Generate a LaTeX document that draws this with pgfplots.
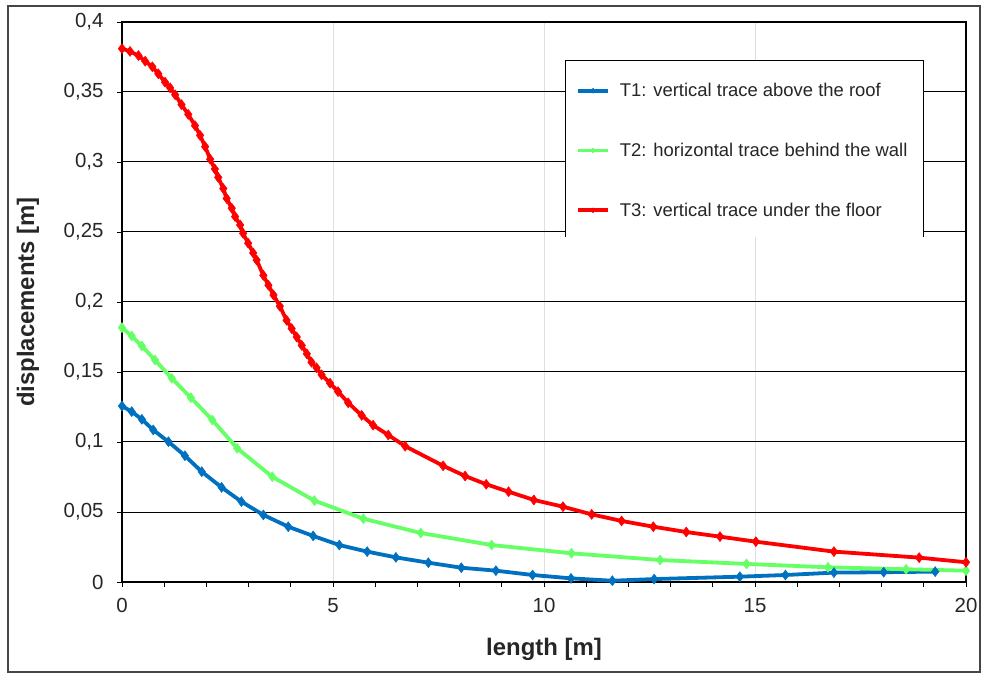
\documentclass[border=0pt]{standalone}
\usepackage{fontspec}
\setmainfont{Liberation Sans}
\usepackage{pgfplots}
\pgfplotsset{compat=1.18}
\definecolor{tblue}{RGB}{0,112,192}
\definecolor{tgreen}{RGB}{102,255,102}
\definecolor{tred}{RGB}{255,0,0}
\definecolor{frame}{RGB}{70,70,70}
\begin{document}
\begin{tikzpicture}
\path (-122bp,-93bp) rectangle (864bp,582bp);
\draw[frame, line width=2bp] (-114bp,-90bp) rectangle (858bp,576bp);
\begin{axis}[
  at={(0bp,0bp)}, anchor=origin,
  scale only axis, width=844bp, height=560bp,
  xmin=0, xmax=20, ymin=0, ymax=0.4,
  clip=false,
  xtick={0,5,10,15,20},
  minor xtick={1,2,3,4,6,7,8,9,11,12,13,14,16,17,18,19},
  ytick={0,0.05,0.1,0.15,0.2,0.25,0.3,0.35,0.4},
  xtick pos=bottom, ytick pos=left,
  tick align=outside,
  major tick length=5bp, minor tick length=5bp,
  tick style={black, line width=0.8bp},
  xmajorgrids, ymajorgrids,
  x grid style={gray!25, line width=1bp},
  y grid style={black, line width=1bp},
  axis line style={black, line width=2bp},
  scaled y ticks=false,
  /pgf/number format/assume math mode=true,
  yticklabel style={/pgf/number format/fixed, /pgf/number format/use comma, /pgf/number format/precision=2, xshift=-10bp},
  tick label style={font=\fontsize{20.5}{24}\selectfont, text=black!85},
  xticklabel style={yshift=-8bp},
  xlabel={\textbf{length [m]}},
  ylabel={\textbf{displacements [m]}},
  label style={font=\fontsize{24}{28}\selectfont, text=black!85},
  xlabel style={at={(axis description cs:0.5,-0.1196)}, anchor=center},
  ylabel style={at={(axis description cs:-0.1114,0.5)}, anchor=center},
  legend style={at={(rel axis cs:0.526,0.932)}, anchor=north west,
    draw=none, fill=none, inner xsep=10bp, inner ysep=21bp,
    row sep=41bp, column sep=8bp, font=\fontsize{18.5}{21}\selectfont, text=black!85},
  legend cell align=left,
  legend image code/.code={\draw[#1, mark size=2.5bp, mark repeat=2, mark phase=2] plot coordinates {(0bp,0bp) (15bp,0bp) (30bp,0bp)};},
  every axis plot/.append style={line width=3.8bp, mark=diamond*, mark size=5bp, mark options={solid, line width=0.5bp}},
]
\fill[white] (rel axis cs:0.526,0.616) rectangle (rel axis cs:0.9502,0.932);
\draw[black, line width=1bp] (rel axis cs:0.526,0.616) -- (rel axis cs:0.526,0.932) -- (rel axis cs:0.9502,0.932) -- (rel axis cs:0.9502,0.616);
\addplot[color=tblue] coordinates {
(0,0.1257) (0.23,0.1217) (0.47,0.1162) (0.74,0.1086) (1.10,0.1002) (1.49,0.0902)
(1.89,0.0788) (2.36,0.0676) (2.83,0.0574) (3.35,0.0479) (3.94,0.0395) (4.53,0.0329)
(5.15,0.0264) (5.81,0.0217) (6.49,0.0176) (7.26,0.0138) (8.04,0.0102) (8.86,0.0081)
(9.73,0.0050) (10.64,0.0026) (11.62,0.0009) (12.61,0.0021) (14.64,0.0038) (15.72,0.0050)
(16.87,0.0067) (18.05,0.0070) (19.27,0.0074)
};
\addlegendentry{T1: vertical trace above the roof}
\addplot[color=tgreen] coordinates {
(0,0.1817) (0.23,0.1757) (0.47,0.1686) (0.78,0.1586) (1.18,0.1455) (1.63,0.1317)
(2.14,0.1157) (2.73,0.0955) (3.56,0.0752) (4.56,0.0581) (5.72,0.0452) (7.08,0.0350)
(8.76,0.0264) (10.65,0.0205) (12.75,0.0157) (14.8,0.0129) (16.73,0.0105) (18.58,0.0091)
(20,0.0081)
};
\addlegendentry{T2: horizontal trace behind the wall}
\addplot[color=tred] coordinates {
(0,0.381) (0.19,0.379) (0.39,0.376) (0.55,0.372) (0.72,0.368) (0.86,0.363)
(1.02,0.357) (1.14,0.353) (1.26,0.348) (1.41,0.341) (1.57,0.334) (1.73,0.326)
(1.85,0.319) (1.97,0.311) (2.09,0.302) (2.20,0.295) (2.28,0.289) (2.40,0.281)
(2.48,0.274) (2.60,0.267) (2.68,0.261) (2.80,0.255) (2.87,0.249) (2.99,0.242)
(3.11,0.235) (3.19,0.230) (3.35,0.219) (3.47,0.212) (3.59,0.205) (3.74,0.197)
(3.90,0.187) (4.02,0.181) (4.14,0.175) (4.26,0.169) (4.38,0.163) (4.49,0.157)
(4.61,0.153) (4.73,0.148) (4.93,0.142) (5.12,0.136) (5.36,0.128) (5.68,0.119)
(5.95,0.112) (6.31,0.105) (6.71,0.097) (7.61,0.083) (8.13,0.0757) (8.63,0.0698)
(9.16,0.0645) (9.76,0.0586) (10.45,0.0538) (11.13,0.0483) (11.84,0.0436) (12.59,0.0395)
(13.37,0.0357) (14.17,0.0324) (15.02,0.0288) (16.87,0.0217) (18.89,0.0174) (20,0.0141)
};
\addlegendentry{T3: vertical trace under the floor}
\end{axis}
\end{tikzpicture}
\end{document}
